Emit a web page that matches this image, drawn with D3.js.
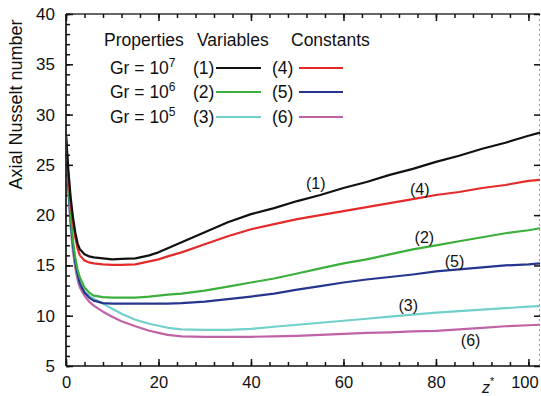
<!DOCTYPE html>
<html lang="en">
<head>
    <meta charset="UTF-8">
    <title>Axial Nusselt number</title>
    <script src="https://d3js.org/d3.v7.min.js"></script>
    <style>
        body { margin: 0; background: #fff; }
        text { font-family: "Liberation Sans", Arial, sans-serif; fill: #111; }
    </style>
</head>
<body>
    <script>
        // Axial positions z* shared by all curves
        const zVals = [0, 0.5, 1, 1.5, 2, 2.5, 3, 4, 5, 6, 8, 10, 12, 15, 18, 20, 22, 25,
                       30, 35, 40, 45, 50, 55, 60, 65, 70, 75, 80, 85, 90, 95, 100, 102.5];

        // Nusselt values
        const nu1 = [28.0, 24.5, 21.8, 19.8, 18.3, 17.2, 16.6, 16.1, 15.9, 15.8, 15.7, 15.6, 15.65, 15.7, 16.0, 16.3, 16.7, 17.3,
                     18.3, 19.3, 20.1, 20.7, 21.4, 22.0, 22.7, 23.3, 24.0, 24.6, 25.3, 25.9, 26.6, 27.2, 27.9, 28.2];
        const nu4 = [27.5, 24.0, 21.3, 19.3, 17.8, 16.7, 16.0, 15.5, 15.3, 15.2, 15.1, 15.05, 15.05, 15.1, 15.4, 15.6, 15.9, 16.3,
                     17.1, 17.9, 18.6, 19.1, 19.6, 20.0, 20.4, 20.8, 21.2, 21.6, 22.0, 22.3, 22.7, 23.0, 23.4, 23.5];
        const nu2 = [28.0, 23.5, 20.0, 17.5, 15.8, 14.6, 13.8, 12.8, 12.3, 12.0, 11.85, 11.8, 11.8, 11.8, 11.9, 12.0, 12.1, 12.2,
                     12.5, 12.9, 13.3, 13.7, 14.2, 14.7, 15.2, 15.6, 16.1, 16.6, 17.0, 17.4, 17.8, 18.2, 18.5, 18.7];
        const nu5 = [27.5, 23.0, 19.5, 17.0, 15.3, 14.1, 13.2, 12.3, 11.8, 11.5, 11.25, 11.2, 11.2, 11.2, 11.2, 11.2, 11.2, 11.25,
                     11.4, 11.65, 11.9, 12.2, 12.6, 12.95, 13.3, 13.6, 13.85, 14.1, 14.4, 14.6, 14.8, 15.0, 15.1, 15.2];
        const nu3 = [28.2, 23.0, 19.2, 16.8, 15.2, 14.0, 13.2, 12.4, 12.0, 11.7, 11.2, 10.7, 10.2, 9.6, 9.2, 9.0, 8.8, 8.65,
                     8.6, 8.6, 8.7, 8.9, 9.1, 9.3, 9.5, 9.7, 9.9, 10.1, 10.3, 10.45, 10.6, 10.75, 10.9, 10.95];
        const nu6 = [27.5, 22.5, 18.8, 16.4, 14.8, 13.6, 12.8, 12.0, 11.4, 11.0, 10.4, 9.9, 9.45, 8.95, 8.5, 8.3, 8.1, 7.95,
                     7.9, 7.9, 7.9, 7.95, 8.0, 8.1, 8.2, 8.3, 8.35, 8.45, 8.5, 8.65, 8.8, 8.95, 9.05, 9.1];

        const curveIds = ["(1)", "(2)", "(3)", "(4)", "(5)", "(6)"];
        const curveVals = [nu1, nu2, nu3, nu4, nu5, nu6];
        const curveColors = ["#111111", "#3daf3d", "#72d0cc", "#e42a2a", "#26368e", "#c062a6"];
        // where each curve's tag sits (z*, Nu)
        const tagZ = [54, 77.5, 74, 76.5, 84, 87.5];
        const tagNu = [23.2, 17.8, 11.0, 22.6, 15.4, 7.5];

        const grLabels = ["7", "6", "5"];
        const xTicks = [0, 20, 40, 60, 80, 100];
        const yTicks = [5, 10, 15, 20, 25, 30, 35, 40];

        const W = 541, H = 396;
        const x = d3.scaleLinear().domain([0, 102.5]).range([66, 540]);
        const y = d3.scaleLinear().domain([5, 40]).range([366, 14]);

        const svg = d3.select("body").append("svg")
            .attr("width", W).attr("height", H);

        // frame: left/bottom/top solid, right faint dotted
        svg.append("line").attr("x1", x(0)).attr("x2", x(0)).attr("y1", y(40)).attr("y2", y(5))
            .attr("stroke", "#111").attr("stroke-width", 1.7);
        svg.append("line").attr("x1", x(0)).attr("x2", 540).attr("y1", y(5)).attr("y2", y(5))
            .attr("stroke", "#111").attr("stroke-width", 1.7);
        svg.append("line").attr("x1", x(0)).attr("x2", 540).attr("y1", y(40)).attr("y2", y(40))
            .attr("stroke", "#333").attr("stroke-width", 1.3);
        svg.append("line").attr("x1", 539.5).attr("x2", 539.5).attr("y1", y(40)).attr("y2", y(5))
            .attr("stroke", "#999").attr("stroke-width", 1).attr("stroke-dasharray", "2,3");

        // ticks pointing inward
        const xMinor = d3.range(0, 101, 4);
        const yMinor = d3.range(5, 40.1, 1);

        svg.append("g").attr("transform", `translate(0,${y(5)})`)
            .call(d3.axisBottom(x).tickValues(xMinor).tickSize(-4).tickFormat(""))
            .call(g => g.select(".domain").remove());
        svg.append("g").attr("transform", `translate(0,${y(5)})`)
            .call(d3.axisBottom(x).tickValues(xTicks).tickSize(-7).tickPadding(10))
            .call(g => g.select(".domain").remove())
            .selectAll("text").attr("font-size", 16.5).attr("dy", "0.71em")
            .attr("dx", d => d === 100 ? -4 : 0);

        svg.append("g").attr("transform", `translate(0,${y(40)})`)
            .call(d3.axisTop(x).tickValues(xMinor).tickSize(-4).tickFormat(""))
            .call(g => g.select(".domain").remove());
        svg.append("g").attr("transform", `translate(0,${y(40)})`)
            .call(d3.axisTop(x).tickValues(xTicks).tickSize(-7).tickFormat(""))
            .call(g => g.select(".domain").remove());

        svg.append("g").attr("transform", `translate(${x(0)},0)`)
            .call(d3.axisLeft(y).tickValues(yMinor).tickSize(-4).tickFormat(""))
            .call(g => g.select(".domain").remove());
        svg.append("g").attr("transform", `translate(${x(0)},0)`)
            .call(d3.axisLeft(y).tickValues(yTicks).tickSize(-7).tickPadding(11))
            .call(g => g.select(".domain").remove())
            .selectAll("text").attr("font-size", 17);

        svg.append("g").attr("transform", "translate(540,0)")
            .call(d3.axisRight(y).tickValues(yTicks).tickSize(-6).tickFormat(""))
            .call(g => g.select(".domain").remove());

        svg.selectAll(".tick line").attr("stroke", "#111").attr("stroke-width", 1.5);
        svg.selectAll(".tick text").style("fill", "#111")
            .attr("font-family", "'Liberation Sans', Arial, sans-serif");

        // axis titles
        svg.append("text")
            .attr("transform", `translate(22,${y(31)}) rotate(-90)`)
            .attr("text-anchor", "middle")
            .attr("font-size", 18)
            .text("Axial Nusselt number");

        const zt = svg.append("text").attr("x", 482).attr("y", 393)
            .attr("font-size", 16).attr("font-style", "italic");
        zt.append("tspan").text("z");
        zt.append("tspan").attr("dy", -8).attr("font-size", 11).attr("font-style", "normal").text("*");

        // curves
        const line = d3.line().x((d, i) => x(zVals[i])).y(d => y(d));
        svg.append("defs").append("clipPath").attr("id", "clip")
            .append("rect").attr("x", x(0) + 1).attr("y", y(40)).attr("width", 540 - x(0)).attr("height", y(5) - y(40));

        const order = [5, 2, 4, 1, 3, 0];
        svg.append("g").attr("clip-path", "url(#clip)")
            .selectAll("path").data(order).join("path")
            .attr("d", i => line(curveVals[i]))
            .attr("fill", "none")
            .attr("stroke", i => curveColors[i])
            .attr("stroke-width", 2.2)
            .attr("stroke-linejoin", "round");

        svg.append("g").selectAll("text").data(curveIds).join("text")
            .attr("x", (d, i) => x(tagZ[i]))
            .attr("y", (d, i) => y(tagNu[i]))
            .attr("text-anchor", "middle")
            .attr("dy", "0.35em")
            .attr("font-size", 16)
            .text(d => d);

        // legend
        const leg = svg.append("g");
        leg.append("text").attr("x", 104).attr("y", 46).attr("font-size", 17.5).text("Properties");
        leg.append("text").attr("x", 197).attr("y", 46).attr("font-size", 17.5).text("Variables");
        leg.append("text").attr("x", 291).attr("y", 46).attr("font-size", 17.5).text("Constants");

        const rowY = [68, 92, 117];
        grLabels.forEach((p, r) => {
            const t = leg.append("text").attr("x", 110).attr("y", rowY[r] + 6).attr("font-size", 17.5);
            t.append("tspan").text("Gr = 10");
            t.append("tspan").attr("dy", -7).attr("font-size", 12).text(p);

            leg.append("text").attr("x", 193).attr("y", rowY[r] + 6).attr("font-size", 17.5).text(curveIds[r]);
            leg.append("line").attr("x1", 216).attr("x2", 261).attr("y1", rowY[r]).attr("y2", rowY[r])
                .attr("stroke", curveColors[r]).attr("stroke-width", 2.2);

            leg.append("text").attr("x", 272).attr("y", rowY[r] + 6).attr("font-size", 17.5).text(curveIds[r + 3]);
            leg.append("line").attr("x1", 299).attr("x2", 343).attr("y1", rowY[r]).attr("y2", rowY[r])
                .attr("stroke", curveColors[r + 3]).attr("stroke-width", 2.2);
        });
    </script>
</body>
</html>
